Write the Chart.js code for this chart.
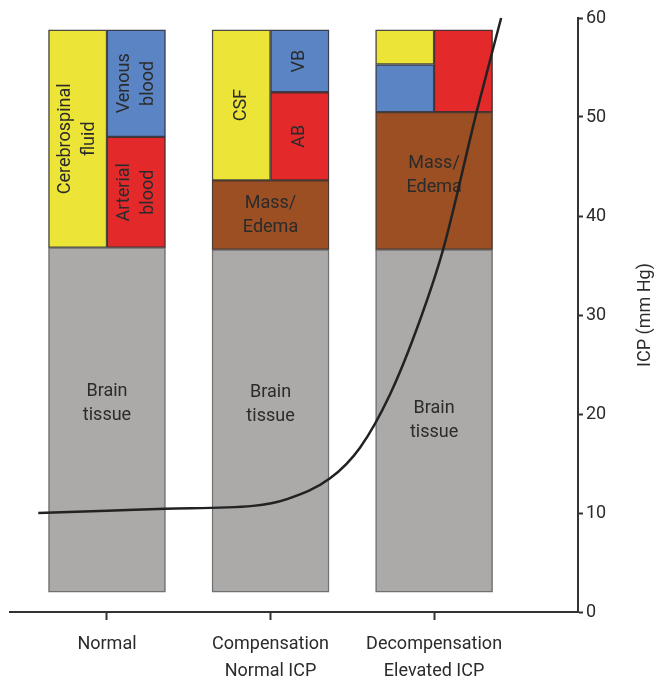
<!DOCTYPE html>
<html>
<head>
<meta charset="utf-8">
<script src="https://cdn.jsdelivr.net/npm/chart.js@4/dist/chart.umd.min.js"></script>
<style>
  html, body { margin: 0; padding: 0; background: #fff; }
  #wrap { width: 654px; height: 680px; }
</style>
</head>
<body>
<div id="wrap"><canvas id="icpChart" width="654" height="680"></canvas></div>
<script>
/* categories along the bottom */
var categories = [['Normal'], ['Compensation', 'Normal ICP'], ['Decompensation', 'Elevated ICP']];
var catPos = [0, 1, 2];
var icpTicks = [0, 10, 20, 30, 40, 50, 60];

/* block ranges (in ICP-axis units) */
var tissue      = [[2, 36.8], [2, 36.6], [2, 36.6]];
var mass        = [null, [36.6, 43.6], [36.6, 50.5]];
var csf         = [[36.8, 58.8], [43.6, 58.8], [55.3, 58.8]];
var venousLeft  = [null, null, [50.5, 55.3]];
var arterial    = [[36.8, 48.0], [43.6, 52.5], [50.5, 58.8]];
var venousRight = [[48.0, 58.8], [52.5, 58.8], null];

/* ICP curve */
var curveX = [-0.42, 0, 0.355, 0.893, 1.101, 1.364, 1.547, 1.731, 1.914, 2.055, 2.263, 2.41];
var curveY = [10.0, 10.23, 10.43, 10.72, 11.4, 13.5, 16.6, 22.0, 29.5, 36.6, 50.7, 60];

/* text inside the blocks */
var tissueText   = [['Brain', 'tissue'], ['Brain', 'tissue'], ['Brain', 'tissue']];
var massText     = [null, ['Mass/', 'Edema'], ['Mass/', 'Edema']];
var csfText      = [['Cerebrospinal', 'fluid'], ['CSF'], null];
var arterialText = [['Arterial', 'blood'], ['AB'], null];
var venousText   = [['Venous', 'blood'], ['VB'], null];

var FONT = 'Roboto, "Noto Sans", sans-serif';
var TEXT = '#2b2b2b';
var AXIS = '#333333';

function toPoints(ranges) {
  var pts = [];
  for (var i = 0; i < ranges.length; i++) {
    if (ranges[i]) pts.push({x: catPos[i], y: ranges[i]});
  }
  return pts;
}
function keepText(ranges, text) {
  var out = [];
  for (var i = 0; i < ranges.length; i++) {
    if (ranges[i]) out.push(text ? text[i] : null);
  }
  return out;
}

var curve = [];
for (var i = 0; i < curveX.length; i++) curve.push({x: curveX[i], y: curveY[i]});

/*draws the words inside each block, before the curve goes on top*/
var blockText = {
  id: 'blockText',
  beforeDatasetDraw: function(chart, args) {
    if (args.meta.type !== 'line') return;
    var ctx = chart.ctx;
    ctx.save();
    ctx.fillStyle = TEXT;
    ctx.font = '18px ' + FONT;
    ctx.textAlign = 'center';
    ctx.textBaseline = 'middle';
    chart.data.datasets.forEach(function(ds, di) {
      if (!ds.words) return;
      var meta = chart.getDatasetMeta(di);
      meta.data.forEach(function(bar, j) {
        var lines = ds.words[j];
        if (!lines) return;
        var cx = bar.x, cy = (bar.y + bar.base) / 2 + (ds.wordShift ? ds.wordShift[j] : 0);
        var lh = 24;
        ctx.save();
        ctx.translate(cx, cy);
        if (ds.rotateWords) ctx.rotate(-Math.PI / 2);
        for (var k = 0; k < lines.length; k++) {
          ctx.fillText(lines[k], 0, (k - (lines.length - 1) / 2) * lh);
        }
        ctx.restore();
      });
    });
    ctx.restore();
  }
};

/*right-hand axis title, reading bottom to top*/
var icpTitle = {
  id: 'icpTitle',
  afterDraw: function(chart) {
    var ctx = chart.ctx, area = chart.chartArea;
    ctx.save();
    ctx.translate(645, (area.top + area.bottom) / 2);
    ctx.rotate(-Math.PI / 2);
    ctx.font = '18px ' + FONT;
    ctx.fillStyle = TEXT;
    ctx.textAlign = 'center';
    ctx.textBaseline = 'middle';
    ctx.fillText('ICP (mm Hg)', 0, 0);
    ctx.restore();
  }
};

function barSet(label, ranges, color, edge, extra) {
  var ds = {
    type: 'bar',
    label: label,
    data: toPoints(ranges),
    backgroundColor: color,
    borderColor: edge,
    borderWidth: 1.5,
    borderSkipped: false
  };
  for (var key in extra) ds[key] = extra[key];
  return ds;
}

var ctx = document.getElementById('icpChart').getContext('2d');
var icpChart = new Chart(ctx, {
  type: 'bar',
  data: {
    datasets: [
      barSet('Brain tissue', tissue, '#abaaa8', '#707070', {
        grouped: false, barThickness: 117, words: keepText(tissue, tissueText), wordShift: [-16, -16, 0]
      }),
      barSet('Mass/Edema', mass, '#9b4f23', '#4a3a30', {
        grouped: false, barThickness: 117, words: keepText(mass, massText), wordShift: [0, -5]
      }),
      barSet('Cerebrospinal fluid', csf, '#ece436', '#4a4a40', {
        stack: 'L', barThickness: 58.5, words: keepText(csf, csfText), rotateWords: true
      }),
      barSet('Venous blood', venousLeft, '#5a84c4', '#3a3f50', {
        stack: 'L', barThickness: 58.5
      }),
      barSet('Arterial blood', arterial, '#e4292b', '#4a3030', {
        stack: 'R', barThickness: 58.5, words: keepText(arterial, arterialText), rotateWords: true
      }),
      barSet('Venous blood ', venousRight, '#5a84c4', '#3a3f50', {
        stack: 'R', barThickness: 58.5, words: keepText(venousRight, venousText), rotateWords: true
      }),
      {
        type: 'line',
        label: 'ICP',
        data: curve,
        borderColor: '#222',
        borderWidth: 2.5,
        pointRadius: 0,
        cubicInterpolationMode: 'monotone',
        clip: false,
        order: -1
      }
    ]
  },
  options: {
    responsive: false,
    animation: false,
    layout: { padding: { left: 10, top: 18, right: 0, bottom: 0 } },
    plugins: { legend: { display: false }, tooltip: { enabled: false } },
    scales: {
      x: {
        type: 'linear',
        offset: false,
        min: -0.593,
        max: 2.88,
        afterBuildTicks: function(s) { s.ticks = catPos.map(function(v) { return {value: v}; }); },
        afterFit: function(s) { s.height = 68; },
        ticks: {
          autoSkip: false, maxRotation: 0, minRotation: 0, padding: 11,
          color: TEXT, font: { family: FONT, size: 18, lineHeight: 1.5 },
          callback: function(v) { return categories[catPos.indexOf(v)]; }
        },
        grid: { offset: false, drawOnChartArea: false, drawTicks: true, tickLength: 8, tickColor: AXIS, tickWidth: 2 },
        border: { color: AXIS, width: 2 }
      },
      y: {
        position: 'right',
        min: 0,
        max: 60,
        stacked: false,
        afterBuildTicks: function(s) { s.ticks = icpTicks.map(function(v) { return {value: v}; }); },
        afterFit: function(s) { s.width = 76; },
        ticks: { padding: 3, color: TEXT, font: { family: FONT, size: 18 } },
        grid: { drawOnChartArea: false, drawTicks: true, tickLength: 5, tickColor: AXIS, tickWidth: 2 },
        border: { color: AXIS, width: 2 }
      }
    }
  },
  plugins: [blockText, icpTitle]
});
</script>
</body>
</html>
